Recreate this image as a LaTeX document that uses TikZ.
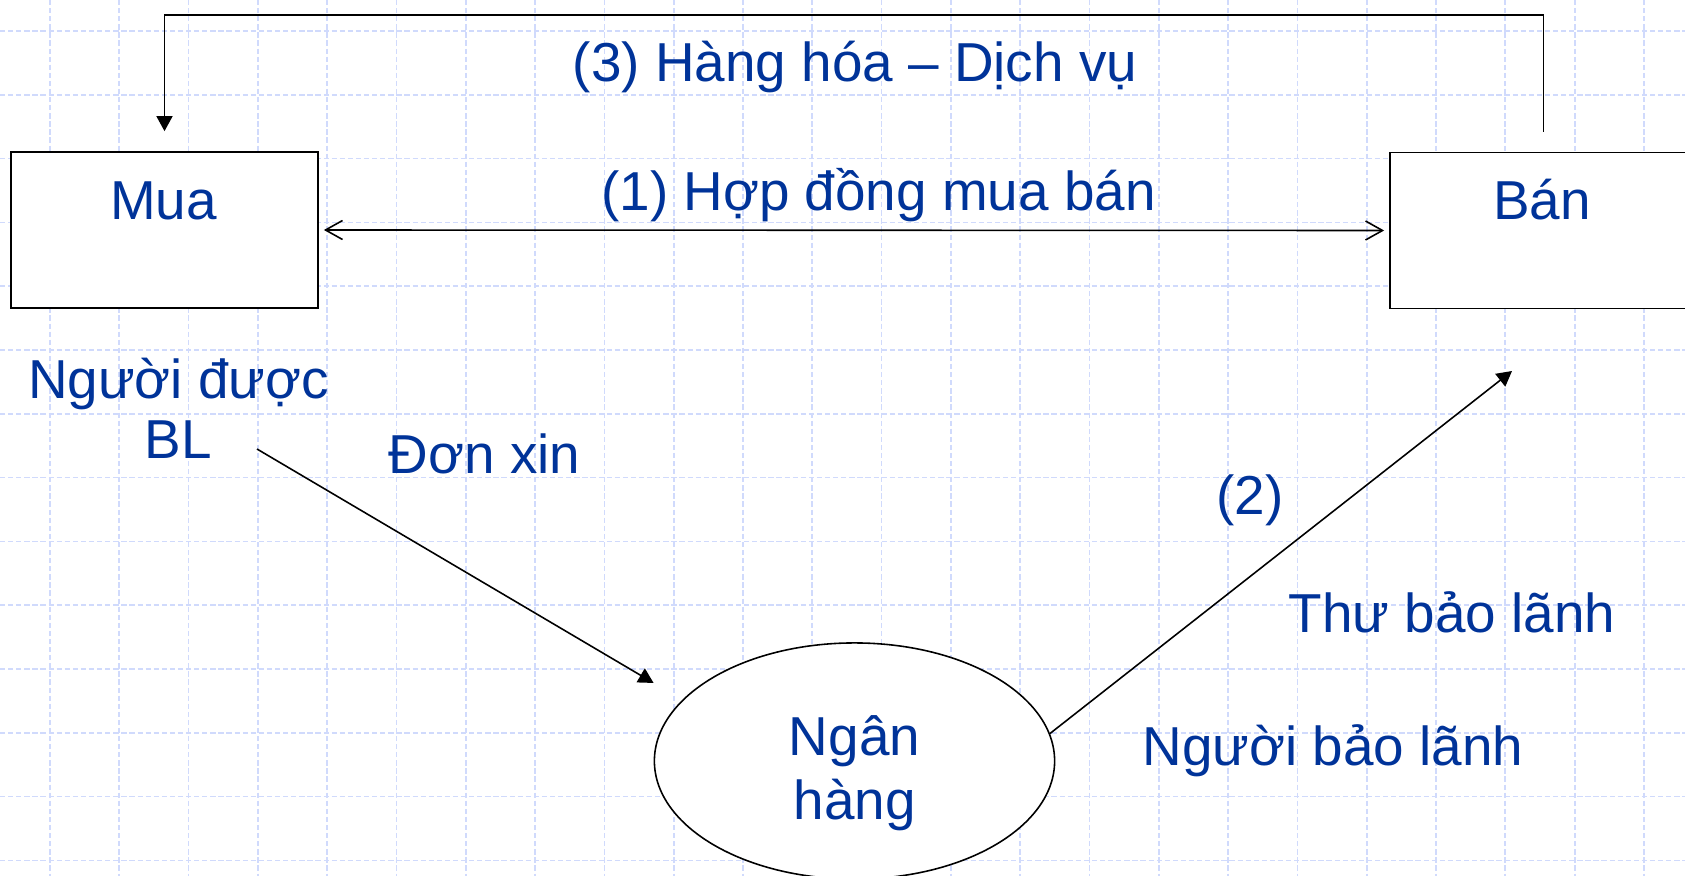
\documentclass[tikz,border=0pt]{standalone}
\usepackage{fontspec}
\setmainfont{Liberation Sans}
\usetikzlibrary{arrows.meta,shapes.geometric,positioning}
\definecolor{chuxanh}{RGB}{0,51,153}
\definecolor{luoixanh}{RGB}{208,218,252}

\begin{document}
\begin{tikzpicture}[x=0.01cm, y=-0.01cm, line width=0.45pt,
		hop/.style={draw, fill=white, rectangle, minimum width=3.07cm, minimum height=1.56cm, inner sep=0pt},
		nganhang/.style={draw, fill=white, ellipse, minimum width=4cm, minimum height=2.36cm, inner sep=0pt},
		chu/.style={text=chuxanh, anchor=base, inner sep=0pt, font=\fontsize{15.6}{18}\selectfont},
		muiten/.style={-{Triangle[length=0.15cm,width=0.16cm]}},
		haimui/.style={{Straight Barb[length=0.17cm,width=0.19cm]}-{Straight Barb[length=0.17cm,width=0.19cm]}},
		gridln/.style={draw=luoixanh, line width=0.5pt, dash pattern=on 1.5pt off 0.8pt}]
		\useasboundingbox (0,0) rectangle (1685,876);
		\clip (0,0) rectangle (1685,876);

		% Luoi nen
		\foreach \i in {0,...,23}
			\draw[gridln] ({50+69.3*\i},0) -- ({50+69.3*\i},876);
		\foreach \j in {0,...,13}
			\draw[gridln] (0,{31+63.8*\j}) -- (1685,{31+63.8*\j});

		% Cac ben
		\node[hop] (mua) at (164.5,230) {};
		\node[hop] (ban) at (1543.5,230.5) {};
		\node[nganhang] (bank) at (854.5,761) {};

		% Chu
		\node[chu] (muaChu) at (163.5,219) {Mua};
		\node[chu] (banChu) at (1542,219) {Bán};
		\node[chu] (nganChu) at (854.5,755) {Ngân};
		\node[chu] (hangChu) at (855,819) {hàng};
		\node[chu] (hangHoa) at (855,82) {(3) Hàng hóa – Dịch vụ};
		\node[chu] (hopDong) at (878.5,211) {(1) Hợp đồng mua bán};
		\node[chu] (nguoiDuoc) at (178.5,398) {Người được};
		\node[chu] (blChu) at (178.5,458) {BL};
		\node[chu] (donXin) at (484.5,473) {Đơn xin};
		\node[chu] (so2) at (1250,514) {(2)};
		\node[chu] (thuBL) at (1452,632) {Thư bảo lãnh};
		\node[chu] (nguoiBL) at (1333,765) {Người bảo lãnh};

		% Mui ten
		\coordinate (dinh) at (855,15);
		\draw[muiten] ([yshift=2mm]ban.north) |- (dinh) -| ([yshift=2mm]mua.north);
		\draw[haimui] ([xshift=0.5mm]mua.east) -- ([xshift=-0.5mm]ban.west);
		\coordinate (donDau) at (257,449);
		\draw[muiten] (donDau) -- ([yshift=0.78cm]bank.west);
		\coordinate (thuCuoi) at (1512,371);
		\draw[muiten] (bank.8) -- (thuCuoi);

	\end{tikzpicture}
\end{document}
